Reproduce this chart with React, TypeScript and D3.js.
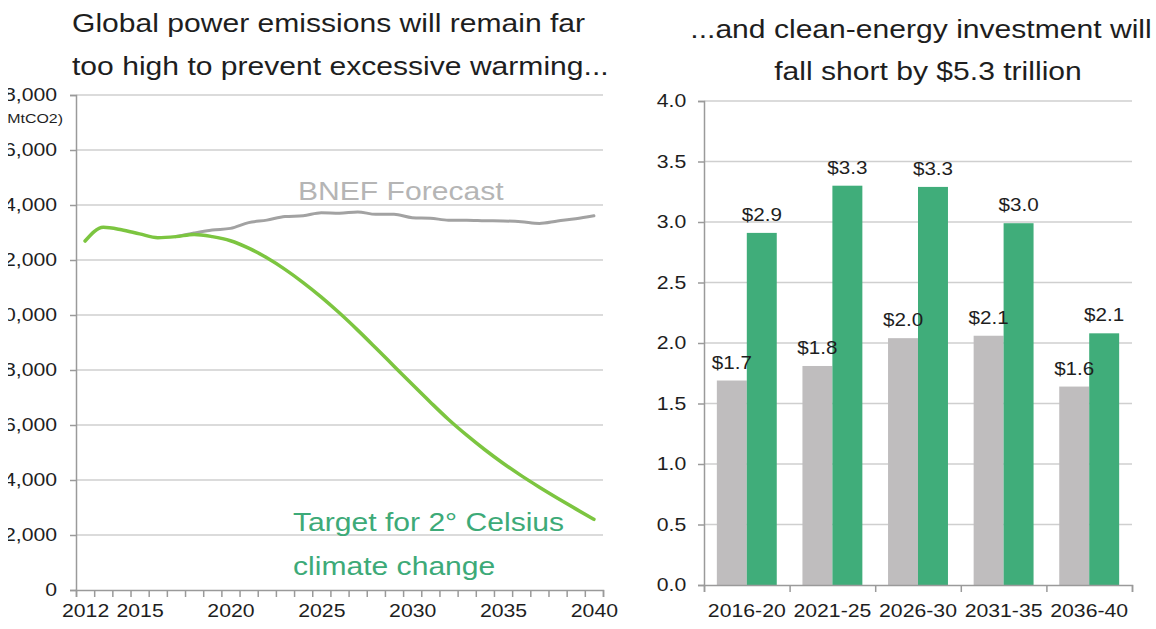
import React, { useEffect, useRef } from 'react';
import * as d3 from 'd3';

// left panel: power sector emissions (MtCO2)
const years = [
  2012, 2013, 2014, 2015, 2016, 2017, 2018, 2019, 2020, 2021, 2022, 2023, 2024, 2025, 2026,
  2027, 2028, 2029, 2030, 2031, 2032, 2033, 2034, 2035, 2036, 2037, 2038, 2039, 2040,
];
const targetEmissions = [
  12690, 13190, 13100, 12950, 12810, 12850, 12930, 12850, 12700, 12430, 12080, 11660, 11180, 10650, 10070,
  9450, 8800, 8140, 7480, 6830, 6200, 5630, 5100, 4610, 4160, 3740, 3340, 2950, 2570,
];
const forecastYears = [
  2017, 2018, 2019, 2020, 2021, 2022, 2023, 2024, 2025, 2026, 2027, 2028,
  2029, 2030, 2031, 2032, 2033, 2034, 2035, 2036, 2037, 2038, 2039, 2040,
];
const forecastEmissions = [
  12850, 12980, 13090, 13150, 13360, 13450, 13580, 13610, 13720, 13700, 13750, 13660,
  13660, 13540, 13520, 13450, 13450, 13430, 13420, 13390, 13330, 13420, 13500, 13610,
];
const yearLabels = [2012, 2015, 2020, 2025, 2030, 2035, 2040];
const emissionTicks = [0, 2000, 4000, 6000, 8000, 10000, 12000, 14000, 16000, 18000];

// right panel: clean-energy investment ($ trillion)
const periods = ['2016-20', '2021-25', '2026-30', '2031-35', '2036-40'];
const forecastInvestment = [1.69, 1.81, 2.04, 2.06, 1.64];
const neededInvestment = [2.91, 3.3, 3.29, 2.99, 2.08];
const investmentTicks = [0, 0.5, 1, 1.5, 2, 2.5, 3, 3.5, 4];

const W = 1156;
const H = 629;
const SX = 1.18; // the source image is stretched sideways, so is the text
const FONT = '"Liberation Sans", Arial, Helvetica, sans-serif';
const AXIS = '#9a9a9a';
const GRID = '#cfcfcf';
const INK = '#1e1e1e';

function addText(g, x, y, str, size, fill, anchor = 'start') {
  return g.append('text')
    .attr('transform', `translate(${x},${y}) scale(${SX},1)`)
    .attr('text-anchor', anchor)
    .style('font-size', `${size}px`)
    .attr('fill', fill)
    .text(str);
}

function styleAxis(g, size) {
  g.attr('font-family', null).attr('font-size', null);
  g.select('.domain').attr('stroke', AXIS).attr('stroke-width', 1.5);
  g.selectAll('.tick line').attr('stroke', AXIS).attr('stroke-width', 1.5);
  g.selectAll('.tick text')
    .attr('fill', INK)
    .style('font-size', `${size}px`)
    .attr('transform', `scale(${SX},1)`);
}

function App() {
  const svgRef = useRef<SVGSVGElement>(null);

  useEffect(() => {
    const svg = d3.select(svgRef.current);
    svg.selectAll('*').remove();
    svg.style('font-family', FONT);

    // the original picture is cropped on its left side
    svg.append('defs').append('clipPath').attr('id', 'leftcrop')
      .append('rect').attr('x', 8).attr('y', 0).attr('width', W).attr('height', H);

    // ---------- left panel ----------
    const xL = d3.scaleLinear().domain([2011.5, 2040.5]).range([76, 603]);
    const yL = d3.scaleLinear().domain([0, 18000]).range([590, 95]);

    const left = svg.append('g');

    left.append('g')
      .selectAll('line')
      .data(emissionTicks.filter(d => d > 0))
      .enter()
      .append('line')
      .attr('x1', xL(2011.5))
      .attr('x2', xL(2040.5))
      .attr('y1', d => yL(d))
      .attr('y2', d => yL(d))
      .attr('stroke', GRID)
      .attr('stroke-width', 1.5);

    const yAxisL = left.append('g')
      .attr('clip-path', 'url(#leftcrop)')
      .append('g')
      .attr('transform', `translate(${xL(2011.5)},0)`)
      .call(d3.axisLeft(yL).tickValues(emissionTicks).tickFormat(d3.format(',')).tickSize(6).tickPadding(10));
    styleAxis(yAxisL, 18);
    addText(yAxisL, -13, 123, '(MtCO2)', 13.5, INK, 'end');

    const boundaries = years.map(d => d - 0.5).concat([2040.5]);
    const xTicksL = left.append('g')
      .attr('transform', `translate(0,${yL(0)})`)
      .call(d3.axisBottom(xL).tickValues(boundaries).tickFormat(() => '').tickSize(7));
    styleAxis(xTicksL, 18);

    const xLabelsL = left.append('g')
      .attr('transform', `translate(0,${yL(0)})`)
      .call(d3.axisBottom(xL).tickValues(yearLabels).tickFormat(d3.format('d')).tickSize(0).tickPadding(14));
    xLabelsL.select('.domain').remove();
    styleAxis(xLabelsL, 18);

    const line = d3.line()
      .x(d => xL(d[0]))
      .y(d => yL(d[1]))
      .curve(d3.curveMonotoneX);

    left.append('path')
      .datum(forecastYears.map((y, i) => [y, forecastEmissions[i]]))
      .attr('d', line)
      .attr('fill', 'none')
      .attr('stroke', '#a2a2a2')
      .attr('stroke-width', 3)
      .attr('stroke-linecap', 'round');

    left.append('path')
      .datum(years.map((y, i) => [y, targetEmissions[i]]))
      .attr('d', line)
      .attr('fill', 'none')
      .attr('stroke', '#7cc540')
      .attr('stroke-width', 3.5)
      .attr('stroke-linecap', 'round');

    addText(left, 298, 200, 'BNEF Forecast', 25.5, '#b5b5b5');
    addText(left, 293, 531, 'Target for 2° Celsius', 25.5, '#3daa78');
    addText(left, 293, 575, 'climate change', 25.5, '#3daa78');

    addText(left, 72, 32, 'Global power emissions will remain far', 25.5, INK);
    addText(left, 72, 75, 'too high to prevent excessive warming...', 25.5, INK);

    // ---------- right panel ----------
    const x0 = d3.scaleBand().domain(periods).range([704, 1132]).padding(0);
    const x1 = d3.scaleBand().domain(['forecast', 'needed']).range([0, x0.bandwidth() * 0.7]);
    const yR = d3.scaleLinear().domain([0, 4]).range([585, 101]);

    const right = svg.append('g');

    right.append('g')
      .selectAll('line')
      .data(investmentTicks.filter(d => d > 0))
      .enter()
      .append('line')
      .attr('x1', 704)
      .attr('x2', 1132)
      .attr('y1', d => yR(d))
      .attr('y2', d => yR(d))
      .attr('stroke', GRID)
      .attr('stroke-width', 1.5);

    const yAxisR = right.append('g')
      .attr('transform', 'translate(704,0)')
      .call(d3.axisLeft(yR).tickValues(investmentTicks).tickFormat(d3.format('.1f')).tickSize(6).tickPadding(9));
    styleAxis(yAxisR, 18);

    const rows = periods.map((p, i) => ({
      period: p,
      values: [
        { key: 'forecast', value: forecastInvestment[i] },
        { key: 'needed', value: neededInvestment[i] },
      ],
    }));
    const colors = { forecast: '#bfbdbe', needed: '#40ad7a' };
    const fmt = d3.format('.1f');

    const groups = right.selectAll('g.period')
      .data(rows)
      .enter()
      .append('g')
      .attr('class', 'period')
      .attr('transform', d => `translate(${x0(d.period) + x0.bandwidth() * 0.15},0)`);

    groups.selectAll('rect')
      .data(d => d.values)
      .enter()
      .append('rect')
      .attr('x', d => x1(d.key))
      .attr('y', d => yR(d.value))
      .attr('width', x1.bandwidth())
      .attr('height', d => yR(0) - yR(d.value))
      .attr('fill', d => colors[d.key]);

    groups.each(function (d) {
      const g = d3.select(this);
      d.values.forEach(v => {
        addText(g, x1(v.key) + x1.bandwidth() / 2, yR(v.value) - 12, `$${fmt(v.value)}`, 17.5, INK, 'middle');
      });
    });

    const xTicksR = right.append('g')
      .attr('transform', `translate(0,${yR(0)})`)
      .call(d3.axisBottom(d3.scaleLinear().domain([0, 5]).range([704, 1132])).ticks(5).tickFormat(() => '').tickSize(7));
    styleAxis(xTicksR, 18);

    const xLabelsR = right.append('g')
      .attr('transform', `translate(0,${yR(0)})`)
      .call(d3.axisBottom(x0).tickSize(0).tickPadding(19));
    xLabelsR.select('.domain').remove();
    styleAxis(xLabelsR, 18);

    addText(right, 921, 38, '...and clean-energy investment will', 25.5, INK, 'middle');
    addText(right, 928, 80, 'fall short by $5.3 trillion', 25.5, INK, 'middle');
  }, []);

  return (
    <div style={{ position: 'absolute', left: 0, top: 0, width: W, height: H, background: '#fff' }}>
      <svg ref={svgRef} width={W} height={H}></svg>
    </div>
  );
}

export default App;
